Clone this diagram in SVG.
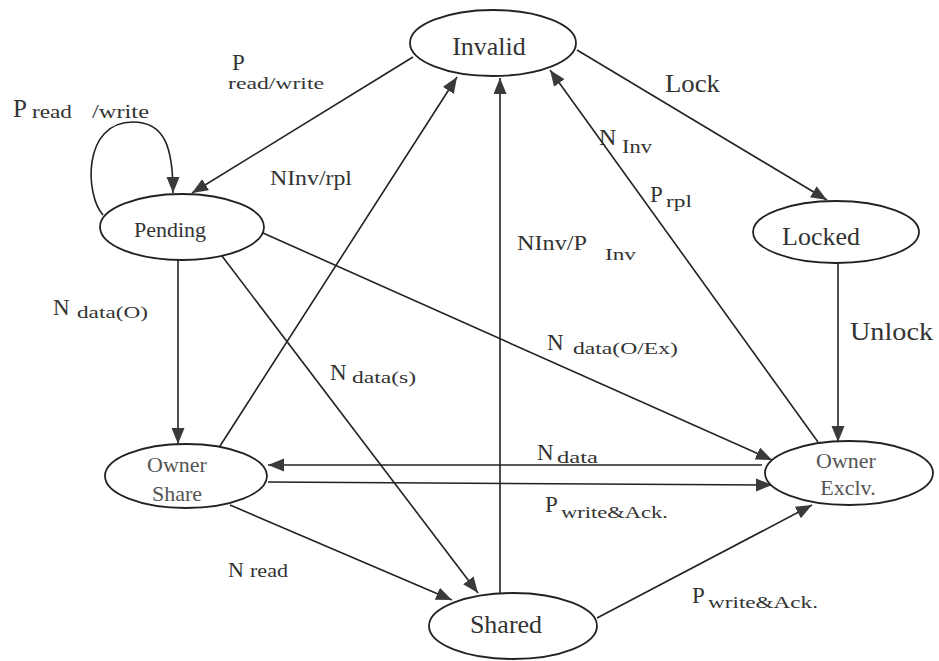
<svg xmlns="http://www.w3.org/2000/svg" width="939" height="661" viewBox="0 0 939 661">
<defs>
<marker id="arr" markerUnits="userSpaceOnUse" markerWidth="18" markerHeight="14" refX="16" refY="6.5" orient="auto">
<path d="M0,0 L16,6.5 L0,13 z" fill="#3a3a3a"/>
</marker>
</defs>
<style>
.node ellipse{fill:#fff;stroke:#222;stroke-width:1.8}
.edges path{fill:none;stroke:#222;stroke-width:1.6;marker-end:url(#arr)}
text{font-family:"Liberation Serif","Times New Roman",serif;fill:#333}
.nl{font-size:26px;text-anchor:middle}
.nls{font-size:22px;text-anchor:middle;fill:#555}
.m{font-size:23px}
.s{font-size:17px}
</style>
<rect width="939" height="661" fill="#fff"/>
<g class="edges" id="connectors">
<path d="M413 57 L192 193"/>
<path d="M103 215 C85 195 82 122 133 122 C165 122 173 148 173 193"/>
<path d="M178 260 L178 444"/>
<path d="M222 256 L478 593"/>
<path d="M220 446 L457 77"/>
<path d="M500 593 L500 78"/>
<path d="M818 442 L550 70"/>
<path d="M577 50 L827 200"/>
<path d="M838 263 L838 442"/>
<path d="M263 233 L772 460"/>
<path d="M762 465 L268 465"/>
<path d="M268 482 L772 485"/>
<path d="M230 505 L452 600"/>
<path d="M597 618 L812 505"/>
</g>
<g class="node" id="invalid"><ellipse cx="493" cy="43" rx="83" ry="33"/><text class="nl" x="489" y="55">Invalid</text></g>
<g class="node" id="pending"><ellipse cx="182" cy="227" rx="82" ry="33"/><text class="nl" x="170" y="237" style="font-size:22px">Pending</text></g>
<g class="node" id="locked"><ellipse cx="836" cy="232" rx="83" ry="31"/><text class="nl" x="821" y="245">Locked</text></g>
<g class="node" id="owner-share"><ellipse cx="186" cy="476" rx="81" ry="32"/><text class="nls" x="177" y="472">Owner</text><text class="nls" x="177" y="501">Share</text></g>
<g class="node" id="owner-exclv"><ellipse cx="849" cy="473" rx="84" ry="32"/><text class="nls" x="846" y="468">Owner</text><text class="nls" x="848" y="495">Exclv.</text></g>
<g class="node" id="shared"><ellipse cx="513" cy="626" rx="84" ry="33"/><text class="nl" x="506" y="633">Shared</text></g>
<g id="labels">
<text class="m" x="232" y="70">P</text>
<text class="s" x="228" y="89" textLength="96" lengthAdjust="spacingAndGlyphs">read/write</text>
<text class="m" x="13" y="117" style="font-size:25px">P</text>
<text x="32" y="118" style="font-size:19px" textLength="40" lengthAdjust="spacingAndGlyphs">read</text>
<text x="92" y="118" style="font-size:19px" textLength="57" lengthAdjust="spacingAndGlyphs">/write</text>
<text x="270" y="185" style="font-size:20px" textLength="82" lengthAdjust="spacingAndGlyphs">NInv/rpl</text>
<text class="m" x="53" y="315">N</text>
<text class="s" x="77" y="318" textLength="71" lengthAdjust="spacingAndGlyphs">data(O)</text>
<text class="m" x="330" y="380">N</text>
<text class="s" x="352" y="383" textLength="64" lengthAdjust="spacingAndGlyphs">data(s)</text>
<text x="517" y="250" style="font-size:20px" textLength="70" lengthAdjust="spacingAndGlyphs">NInv/P</text>
<text class="s" x="605" y="260" textLength="31" lengthAdjust="spacingAndGlyphs">Inv</text>
<text class="m" x="599" y="145" style="font-size:24px">N</text>
<text x="622" y="153" style="font-size:19px" textLength="30" lengthAdjust="spacingAndGlyphs">Inv</text>
<text class="m" x="650" y="202">P</text>
<text class="s" x="666" y="207" textLength="26" lengthAdjust="spacingAndGlyphs">rpl</text>
<text x="665" y="92" style="font-size:25px" textLength="55" lengthAdjust="spacingAndGlyphs">Lock</text>
<text x="850" y="340" style="font-size:25px" textLength="83" lengthAdjust="spacingAndGlyphs">Unlock</text>
<text class="m" x="547" y="350">N</text>
<text class="s" x="573" y="354" textLength="105" lengthAdjust="spacingAndGlyphs">data(O/Ex)</text>
<text class="m" x="537" y="460">N</text>
<text class="s" x="557" y="463" textLength="41" lengthAdjust="spacingAndGlyphs">data</text>
<text class="m" x="545" y="512">P</text>
<text class="s" x="561" y="518" textLength="107" lengthAdjust="spacingAndGlyphs">write&amp;Ack.</text>
<text class="m" x="692" y="603">P</text>
<text class="s" x="708" y="608" textLength="110" lengthAdjust="spacingAndGlyphs">write&amp;Ack.</text>
<text class="m" x="228" y="577" style="font-size:22px">N</text>
<text x="250" y="577" style="font-size:19px" textLength="38" lengthAdjust="spacingAndGlyphs">read</text>
</g>
</svg>
